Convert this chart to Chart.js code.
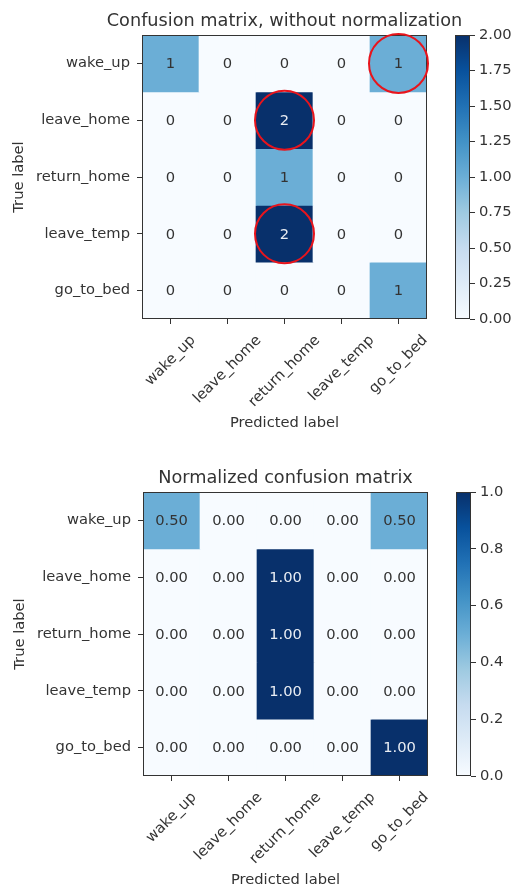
<!DOCTYPE html>
<html>
<head>
<meta charset="utf-8">
<script src="https://cdn.jsdelivr.net/npm/chart.js@4.4.1/dist/chart.umd.min.js"></script>
<style>
  html, body { margin: 0; padding: 0; background: #fff; width: 513px; height: 888px; overflow: hidden; position: relative; }
  canvas { position: absolute; }
</style>
</head>
<body>
<canvas id="cm1" width="512" height="436" style="left:0px;top:0px;width:512px;height:436px"></canvas>
<canvas id="cb1" width="73" height="436" style="left:440px;top:0px;width:73px;height:436px"></canvas>
<canvas id="cm2" width="512" height="436" style="left:1px;top:457px;width:512px;height:436px"></canvas>
<canvas id="cb2" width="72" height="436" style="left:441px;top:457px;width:72px;height:436px"></canvas>
<script>
// Class names shared by both axes
const classNames = ['wake_up', 'leave_home', 'return_home', 'leave_temp', 'go_to_bed'];

// Raw counts (rows = true label, columns = predicted label)
const countMatrix = [
  [1, 0, 0, 0, 1],
  [0, 0, 2, 0, 0],
  [0, 0, 1, 0, 0],
  [0, 0, 2, 0, 0],
  [0, 0, 0, 0, 1]
];

// Row-normalized values
const normMatrix = [
  [0.5, 0, 0, 0, 0.5],
  [0, 0, 1, 0, 0],
  [0, 0, 1, 0, 0],
  [0, 0, 1, 0, 0],
  [0, 0, 0, 0, 1]
];

// Cells marked with a red ring in the count matrix: [row, column]
const circledCells = [[0, 4], [1, 2], [3, 2]];

// Colour bar tick values
const countBarTicks = [0, 0.25, 0.5, 0.75, 1, 1.25, 1.5, 1.75, 2];
const normBarTicks = [0, 0.2, 0.4, 0.6, 0.8, 1];

const FONT = "'DejaVu Sans', sans-serif";
const TXT = '#333333';
const TICK_SIZE = 14.7;
const TITLE_SIZE = 17.7;

// Sequential "Blues" colour map
const BLUES = ['#f7fbff', '#deebf7', '#c6dbef', '#9ecae1', '#6baed6', '#4292c6', '#2171b5', '#08519c', '#08306b'];
function hexToRgb(h) {
  return [parseInt(h.slice(1, 3), 16), parseInt(h.slice(3, 5), 16), parseInt(h.slice(5, 7), 16)];
}
function blues(t) {
  t = Math.max(0, Math.min(1, t));
  const p = t * (BLUES.length - 1);
  const i = Math.min(Math.floor(p), BLUES.length - 2);
  const f = p - i;
  const a = hexToRgb(BLUES[i]), b = hexToRgb(BLUES[i + 1]);
  const c = a.map((v, k) => Math.round(v + (b[k] - v) * f));
  return `rgb(${c[0]},${c[1]},${c[2]})`;
}

// Outline around the plot area
const framePlugin = {
  id: 'frame',
  afterDatasetsDraw(chart) {
    const a = chart.chartArea, ctx = chart.ctx;
    ctx.save();
    ctx.strokeStyle = TXT;
    ctx.lineWidth = 1;
    ctx.strokeRect(Math.round(a.left) + 0.5, Math.round(a.top) + 0.5,
                   Math.round(a.right - a.left) - 1, Math.round(a.bottom - a.top) - 1);
    ctx.restore();
  }
};

function heatmap(canvasId, titleText, matrix, vmax, fmt, rings) {
  const datasets = matrix.map((row, r) => ({
    label: classNames[r],
    data: row.map(() => [r - 0.5, r + 0.5]),
    backgroundColor: row.map(v => blues(v / vmax)),
    borderWidth: 0,
    grouped: false,
    barPercentage: 1,
    categoryPercentage: 1
  }));

  // Heading centred over the plot area
  const heading = {
    id: 'heading',
    afterDraw(chart) {
      const ctx = chart.ctx, a = chart.chartArea;
      ctx.save();
      ctx.font = `${TITLE_SIZE}px ${FONT}`;
      ctx.fillStyle = TXT;
      ctx.textAlign = 'center';
      ctx.textBaseline = 'middle';
      ctx.fillText(titleText, (a.left + a.right) / 2, a.top - 14);
      ctx.restore();
    }
  };

  // Value written in the middle of each cell
  const cellText = {
    id: 'cellText',
    afterDatasetsDraw(chart) {
      const ctx = chart.ctx;
      const thresh = vmax / 2;
      ctx.save();
      ctx.font = `${TICK_SIZE}px ${FONT}`;
      ctx.textAlign = 'center';
      ctx.textBaseline = 'middle';
      matrix.forEach((row, r) => {
        const meta = chart.getDatasetMeta(r);
        row.forEach((v, c) => {
          const el = meta.data[c];
          ctx.fillStyle = v > thresh ? '#e9edf3' : TXT;
          ctx.fillText(fmt(v), el.x, (el.y + el.base) / 2 + 1);
        });
      });
      ctx.restore();
    }
  };

  // Red rings around selected cells
  const ringPlugin = {
    id: 'rings',
    afterDraw(chart) {
      if (!rings.length) return;
      const ctx = chart.ctx;
      ctx.save();
      ctx.strokeStyle = '#e8141c';
      ctx.lineWidth = 2;
      rings.forEach(([r, c]) => {
        const el = chart.getDatasetMeta(r).data[c];
        const cx = el.x, cy = (el.y + el.base) / 2;
        ctx.beginPath();
        ctx.arc(cx, cy, 29.5, 0, Math.PI * 2);
        ctx.stroke();
      });
      ctx.restore();
    }
  };

  // Category names along the bottom, rotated 45 degrees and centred on each tick
  const xLabels = {
    id: 'xLabels',
    afterDraw(chart) {
      const ctx = chart.ctx, xs = chart.scales.x;
      const top = chart.chartArea.bottom + 5 + 8;
      const h = TICK_SIZE * 1.17;
      ctx.save();
      ctx.font = `${TICK_SIZE}px ${FONT}`;
      ctx.fillStyle = TXT;
      ctx.textAlign = 'center';
      ctx.textBaseline = 'middle';
      classNames.forEach((name, i) => {
        const w = ctx.measureText(name).width;
        const d = (w + h) / Math.SQRT2;
        ctx.save();
        ctx.translate(xs.getPixelForTick(i), top + d / 2);
        ctx.rotate(-Math.PI / 4);
        ctx.fillText(name, 0, 0);
        ctx.restore();
      });
      ctx.restore();
    }
  };

  return new Chart(document.getElementById(canvasId), {
    type: 'bar',
    data: { labels: classNames, datasets },
    options: {
      responsive: false,
      animation: false,
      events: [],
      layout: { padding: { left: 0, right: 85, top: 35, bottom: 0 } },
      plugins: {
        legend: { display: false },
        tooltip: { enabled: false },
        title: { display: false }
      },
      scales: {
        x: {
          type: 'category',
          offset: true,
          grid: { display: true, drawOnChartArea: false, drawTicks: true, tickLength: 5, color: TXT, offset: false },
          border: { display: false },
          ticks: { display: false },
          title: {
            display: true, text: 'Predicted label', color: TXT,
            font: { family: FONT, size: TICK_SIZE }, padding: { top: 0, bottom: 4.2 }
          },
          afterFit: s => { s.height = 117; }
        },
        y: {
          type: 'linear',
          min: -0.5,
          max: 4.5,
          reverse: true,
          afterBuildTicks: s => { s.ticks = classNames.map((_, i) => ({ value: i })); },
          ticks: {
            callback: v => classNames[v],
            color: TXT,
            font: { family: FONT, size: TICK_SIZE },
            padding: 7,
            autoSkip: false
          },
          grid: { display: true, drawOnChartArea: false, drawTicks: true, tickLength: 5, color: TXT },
          border: { display: false },
          title: {
            display: true, text: 'True label', color: TXT,
            font: { family: FONT, size: TICK_SIZE }, padding: { top: 10.6, bottom: 0 }
          },
          afterFit: s => { s.width = 142; }
        }
      }
    },
    plugins: [framePlugin, cellText, ringPlugin, xLabels, heading]
  });
}

function colorbar(canvasId, vmax, tickValues, fmt) {
  return new Chart(document.getElementById(canvasId), {
    type: 'bar',
    data: {
      labels: [''],
      datasets: [{
        data: [[0, vmax]],
        borderWidth: 0,
        barPercentage: 1,
        categoryPercentage: 1,
        backgroundColor: (c) => {
          const ch = c.chart, ys = ch.scales.y;
          if (!ch.chartArea || !ys) return BLUES[0];
          const g = ch.ctx.createLinearGradient(0, ys.getPixelForValue(0), 0, ys.getPixelForValue(vmax));
          BLUES.forEach((col, i) => g.addColorStop(i / (BLUES.length - 1), col));
          return g;
        }
      }]
    },
    options: {
      responsive: false,
      animation: false,
      events: [],
      layout: { padding: { left: 15, right: 0, top: 35, bottom: 117 } },
      plugins: { legend: { display: false }, tooltip: { enabled: false } },
      scales: {
        x: { type: 'category', display: false, offset: true },
        y: {
          type: 'linear',
          position: 'right',
          min: 0,
          max: vmax,
          afterBuildTicks: s => { s.ticks = tickValues.map(v => ({ value: v })); },
          ticks: { callback: v => fmt(v), color: TXT, font: { family: FONT, size: TICK_SIZE }, padding: 4, autoSkip: false },
          grid: { display: true, drawOnChartArea: false, drawTicks: true, tickLength: 5, color: TXT },
          border: { display: false },
          afterFit: s => { s.width = s.chart.width - 30; }
        }
      }
    },
    plugins: [framePlugin]
  });
}

heatmap('cm1', 'Confusion matrix, without normalization', countMatrix, 2, v => String(v), circledCells);
colorbar('cb1', 2, countBarTicks, v => v.toFixed(2));
heatmap('cm2', 'Normalized confusion matrix', normMatrix, 1, v => v.toFixed(2), []);
colorbar('cb2', 1, normBarTicks, v => v.toFixed(1));
</script>
</body>
</html>
